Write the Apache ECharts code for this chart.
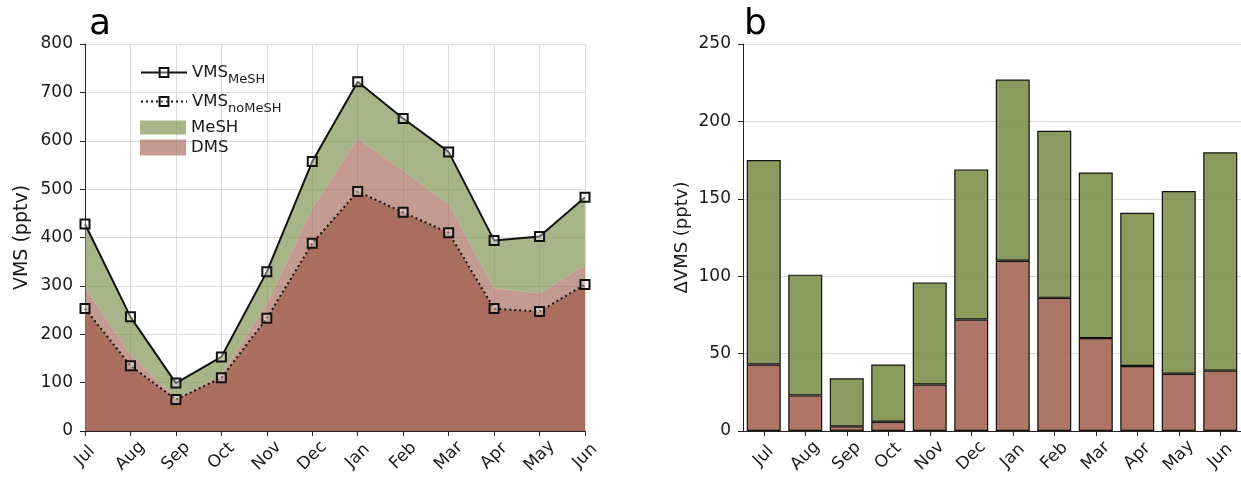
<!DOCTYPE html>
<html>
<head>
<meta charset="utf-8">
<script src="https://cdn.jsdelivr.net/npm/echarts@6/dist/echarts.min.js"></script>
<style>
  html, body { margin: 0; padding: 0; background: #fff; }
  #chart { width: 1241px; height: 479px; }
</style>
</head>
<body>
<div id="chart"></div>
<script>
// Monthly VMS mixing ratios (pptv)
const months = ['Jul', 'Aug', 'Sep', 'Oct', 'Nov', 'Dec', 'Jan', 'Feb', 'Mar', 'Apr', 'May', 'Jun'];
// VMS without the MeSH source
const vmsNoMesh = [253, 135, 65, 110, 233, 388, 495, 452, 410, 253, 247, 303];
// Extra VMS attributed to DMS and to MeSH (panel b)
const deltaDms = [43, 23, 3, 6, 30, 72, 110, 86, 60, 42, 37, 39];
const deltaMesh = [132, 78, 31, 37, 66, 97, 117, 108, 107, 99, 118, 141];
// VMS with MeSH = base + DMS part + MeSH part
const vmsMesh = vmsNoMesh.map((v, i) => v + deltaDms[i] + deltaMesh[i]);

const yTicksA = { min: 0, max: 800, interval: 100 };
const yTicksB = { min: 0, max: 250, interval: 50 };

const FONT = 'DejaVu Sans';
const INK = '#1a1a1a';
const redA = a => `rgba(164,102,84,${a})`;
const greenA = a => `rgba(126,144,77,${a})`;

const chart = echarts.init(document.getElementById('chart'), null, { renderer: 'canvas' });

const tickLabel = { fontFamily: FONT, fontSize: 17, color: INK };
const xLabel = Object.assign({}, tickLabel, {
  rotate: 45, align: 'center', verticalAlign: 'middle', margin: 25, interval: 0
});

const legendRich = {
  m: { fontFamily: FONT, fontSize: 16.5, color: INK },
  s: { fontFamily: FONT, fontSize: 13, color: INK, padding: [14, 0, 0, 0] }
};
const legendFmt = name => name.indexOf('VMS_') === 0
  ? `{m|VMS}{s|${name.slice(4)}}` : `{m|${name}}`;
function legendAt(top, data, h) {
  return {
    left: 140, top: top, orient: 'vertical', data: data, padding: 0,
    itemWidth: 46, itemHeight: h, itemGap: 0, selectedMode: false,
    formatter: legendFmt,
    textStyle: { rich: legendRich, padding: [0, 0, 0, 0] }
  };
}

const axisLineStyle = { show: true, lineStyle: { color: '#222', width: 1 } };
const axisTickStyle = { show: true, length: 5, lineStyle: { color: '#222', width: 1 } };
const gridLine = { show: true, lineStyle: { color: '#dcdcdc', width: 1 } };

const option = {
  animation: false,
  backgroundColor: '#fff',
  textStyle: { fontFamily: FONT },
  title: [
    { text: 'a', left: 84, top: 2, textStyle: { fontFamily: FONT, fontSize: 36, fontWeight: 'normal', color: '#000' } },
    { text: 'b', left: 739, top: 2, textStyle: { fontFamily: FONT, fontSize: 36, fontWeight: 'normal', color: '#000' } }
  ],
  legend: [
    legendAt(64, ['VMS_MeSH'], 11),
    legendAt(93, ['VMS_noMeSH'], 11),
    Object.assign(legendAt(119, [{ name: 'MeSH', icon: 'rect' }], 14), { itemStyle: { borderWidth: 0 } }),
    Object.assign(legendAt(139, [{ name: 'DMS', icon: 'rect' }], 16), { itemStyle: { borderWidth: 0 } })
  ],
  grid: [
    { left: 85, top: 44, width: 500, bottom: 48 },
    { left: 743, top: 44, width: 500, bottom: 48 }
  ],
  xAxis: [
    {
      type: 'category', gridIndex: 0, data: months, boundaryGap: false,
      axisLine: axisLineStyle, axisTick: Object.assign({ interval: 0 }, axisTickStyle),
      axisLabel: xLabel, splitLine: Object.assign({ interval: 0 }, gridLine)
    },
    {
      type: 'category', gridIndex: 1, data: months, boundaryGap: true,
      axisLine: axisLineStyle, axisTick: Object.assign({ interval: 0, alignWithLabel: true }, axisTickStyle),
      axisLabel: xLabel, splitLine: { show: false }
    }
  ],
  yAxis: [
    {
      type: 'value', gridIndex: 0, min: yTicksA.min, max: yTicksA.max, interval: yTicksA.interval,
      name: 'VMS (pptv)', nameLocation: 'middle', nameGap: 53,
      nameTextStyle: { fontFamily: FONT, fontSize: 19, color: INK },
      axisLine: axisLineStyle, axisTick: axisTickStyle,
      axisLabel: Object.assign({ margin: 12 }, tickLabel), splitLine: gridLine
    },
    {
      type: 'value', gridIndex: 1, min: yTicksB.min, max: yTicksB.max, interval: yTicksB.interval,
      name: '\u0394VMS (pptv)', nameLocation: 'middle', nameGap: 52,
      nameTextStyle: { fontFamily: FONT, fontSize: 18, color: INK },
      axisLine: axisLineStyle, axisTick: axisTickStyle,
      axisLabel: Object.assign({ margin: 12 }, tickLabel), splitLine: gridLine
    }
  ],
  series: [
    // Panel a: stacked filled bands
    {
      name: 'base', type: 'line', xAxisIndex: 0, yAxisIndex: 0, stack: 'vms',
      data: vmsNoMesh, showSymbol: false, symbol: 'none', lineStyle: { width: 0 },
      areaStyle: { color: redA(0.95), opacity: 1 }, itemStyle: { color: redA(0.95) }, z: 1
    },
    {
      name: 'DMS', type: 'line', xAxisIndex: 0, yAxisIndex: 0, stack: 'vms',
      data: deltaDms, showSymbol: false, symbol: 'none', lineStyle: { width: 0 },
      areaStyle: { color: redA(0.65), opacity: 1 }, itemStyle: { color: redA(0.65) }, z: 1
    },
    {
      name: 'MeSH', type: 'line', xAxisIndex: 0, yAxisIndex: 0, stack: 'vms',
      data: deltaMesh, showSymbol: false, symbol: 'none', lineStyle: { width: 0 },
      areaStyle: { color: greenA(0.67), opacity: 1 }, itemStyle: { color: greenA(0.67) }, z: 1
    },
    // Panel a: VMS curves
    {
      name: 'VMS_noMeSH', type: 'line', xAxisIndex: 0, yAxisIndex: 0, data: vmsNoMesh,
      symbol: 'rect', symbolSize: 9, showSymbol: true,
      lineStyle: { color: '#111', width: 2, type: [2, 3] },
      itemStyle: { color: 'rgba(255,255,255,0.35)', borderColor: '#111', borderWidth: 2 }, z: 3
    },
    {
      name: 'VMS_MeSH', type: 'line', xAxisIndex: 0, yAxisIndex: 0, data: vmsMesh,
      symbol: 'rect', symbolSize: 9, showSymbol: true,
      lineStyle: { color: '#111', width: 2 },
      itemStyle: { color: 'rgba(255,255,255,0.35)', borderColor: '#111', borderWidth: 2 }, z: 3
    },
    // Panel b: stacked bars
    {
      name: 'dDMS', type: 'bar', xAxisIndex: 1, yAxisIndex: 1, stack: 'delta', data: deltaDms,
      barWidth: 34, itemStyle: { color: redA(0.9), borderColor: '#111', borderWidth: 1.2 }
    },
    {
      name: 'dMeSH', type: 'bar', xAxisIndex: 1, yAxisIndex: 1, stack: 'delta', data: deltaMesh,
      barWidth: 34, itemStyle: { color: greenA(0.9), borderColor: '#111', borderWidth: 1.2 }
    }
  ]
};

chart.setOption(option);
</script>
</body>
</html>
